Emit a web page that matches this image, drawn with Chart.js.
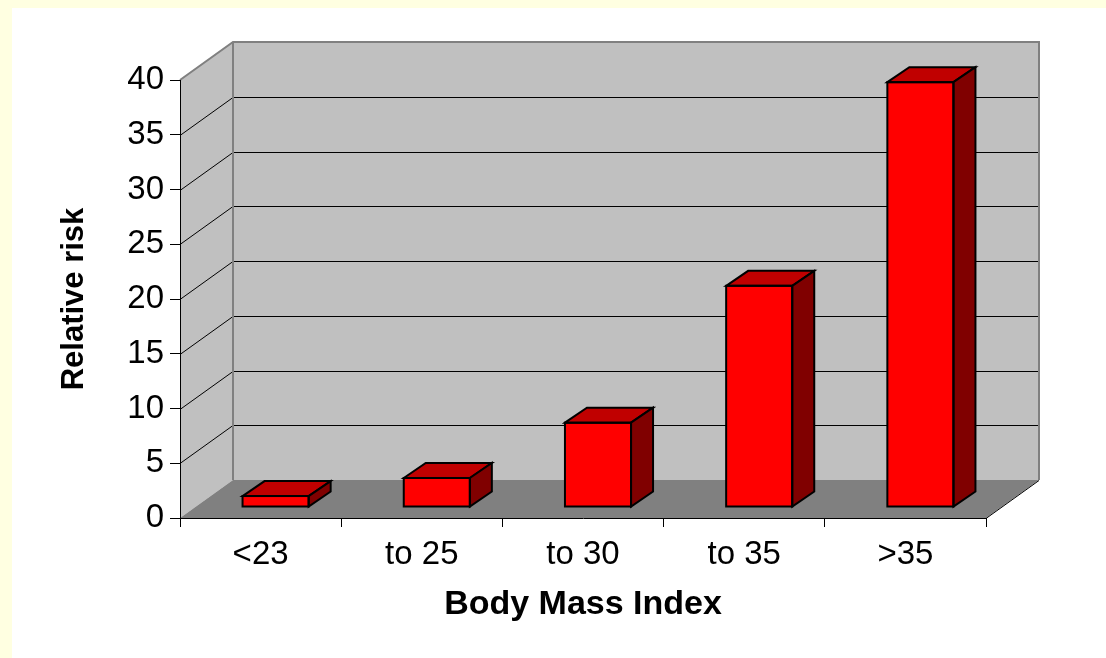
<!DOCTYPE html>
<html>
<head>
<meta charset="utf-8">
<script src="https://cdn.jsdelivr.net/npm/chart.js@4"></script>
<style>
  html, body { margin: 0; padding: 0; background: #FFFFE1; }
  #frame { position: absolute; left: 12px; top: 8px; width: 1094px; height: 650px; background: #FFFFFF; }
  canvas { display: block; }
</style>
</head>
<body>
<div id="frame"><canvas id="chart" width="1094" height="650"></canvas></div>
<script>
// data
const categories = ['<23', 'to 25', 'to 30', 'to 35', '>35'];
const relativeRisk = [1.0, 2.65, 7.7, 20.2, 38.8];
const yTicks = { min: 0, max: 40, step: 5 };

// 3D look (pixels)
const WALL_DX = 53, WALL_DY = -38;   // depth of the back wall
const BAR_DX = 15, BAR_DY = -11;     // where the bar fronts sit
const BOX_DX = 22, BOX_DY = -15;     // depth of each bar

const FONT = '"Liberation Sans", Arial, sans-serif';

// walls, floor and gridlines
const wallsPlugin = {
  id: 'walls',
  beforeDraw(chart) {
    const { ctx, chartArea: a, scales: { y } } = chart;
    const L = a.left, R = a.right, T = a.top, B = a.bottom;
    ctx.save();

    // side wall
    ctx.fillStyle = '#C0C0C0';
    ctx.beginPath();
    ctx.moveTo(L, T);
    ctx.lineTo(L + WALL_DX, T + WALL_DY);
    ctx.lineTo(L + WALL_DX, B + WALL_DY);
    ctx.lineTo(L, B);
    ctx.closePath();
    ctx.fill();

    // back wall
    ctx.fillRect(L + WALL_DX, T + WALL_DY, R - L, B - T);

    // floor
    ctx.fillStyle = '#808080';
    ctx.beginPath();
    ctx.moveTo(L, B);
    ctx.lineTo(L + WALL_DX, B + WALL_DY);
    ctx.lineTo(R + WALL_DX, B + WALL_DY);
    ctx.lineTo(R, B);
    ctx.closePath();
    ctx.fill();

    // gridlines
    ctx.strokeStyle = '#000';
    ctx.lineWidth = 1;
    y.ticks.forEach(t => {
      if (t.value === yTicks.min || t.value === yTicks.max) return;
      const py = Math.round(y.getPixelForValue(t.value)) + 0.5;
      ctx.beginPath();
      ctx.moveTo(L, py);
      ctx.lineTo(L + WALL_DX, py + WALL_DY);
      ctx.lineTo(R + WALL_DX, py + WALL_DY);
      ctx.stroke();
    });

    // wall edges
    ctx.strokeStyle = '#808080';
    ctx.lineWidth = 2;
    ctx.beginPath();
    ctx.moveTo(L, T);
    ctx.lineTo(L + WALL_DX, T + WALL_DY);
    ctx.lineTo(R + WALL_DX, T + WALL_DY);
    ctx.lineTo(R + WALL_DX, B + WALL_DY);
    ctx.moveTo(L + WALL_DX, T + WALL_DY);
    ctx.lineTo(L + WALL_DX, B + WALL_DY);
    ctx.stroke();

    // floor right edge
    ctx.strokeStyle = '#000';
    ctx.lineWidth = 1;
    ctx.beginPath();
    ctx.moveTo(R, B + 0.5);
    ctx.lineTo(R + WALL_DX, B + WALL_DY + 0.5);
    ctx.stroke();

    ctx.restore();
  }
};

// pushes bars back into the box and adds top + side faces
const boxBarsPlugin = {
  id: 'boxBars',
  beforeDatasetsDraw(chart) {
    chart.ctx.save();
    chart.ctx.translate(BAR_DX, BAR_DY);
  },
  afterDatasetsDraw(chart) {
    const ctx = chart.ctx;
    const meta = chart.getDatasetMeta(0);
    ctx.lineWidth = 2;
    ctx.lineJoin = 'miter';
    ctx.strokeStyle = '#000';
    meta.data.forEach(bar => {
      const { x, y, base, width } = bar.getProps(['x', 'y', 'base', 'width'], true);
      const l = x - width / 2, r = x + width / 2;
      // top
      ctx.fillStyle = '#C00000';
      ctx.beginPath();
      ctx.moveTo(l, y);
      ctx.lineTo(l + BOX_DX, y + BOX_DY);
      ctx.lineTo(r + BOX_DX, y + BOX_DY);
      ctx.lineTo(r, y);
      ctx.closePath();
      ctx.fill();
      ctx.stroke();
      // side
      ctx.fillStyle = '#800000';
      ctx.beginPath();
      ctx.moveTo(r, y);
      ctx.lineTo(r + BOX_DX, y + BOX_DY);
      ctx.lineTo(r + BOX_DX, base + BOX_DY);
      ctx.lineTo(r, base);
      ctx.closePath();
      ctx.fill();
      ctx.stroke();
      // front outline
      ctx.strokeRect(l, y, width, base - y);
    });
    ctx.restore();
  }
};

const ctx = document.getElementById('chart').getContext('2d');
new Chart(ctx, {
  type: 'bar',
  data: {
    labels: categories,
    datasets: [{
      data: relativeRisk,
      backgroundColor: '#FF0000',
      borderColor: '#000000',
      borderWidth: 0,
      borderSkipped: false,
      categoryPercentage: 1.0,
      barPercentage: 0.41,
      clip: false
    }]
  },
  options: {
    responsive: false,
    animation: false,
    devicePixelRatio: 1,
    layout: { padding: { left: 0, top: 72, right: 120, bottom: 0 } },
    plugins: {
      legend: { display: false },
      tooltip: { enabled: false }
    },
    scales: {
      x: {
        offset: true,
        grid: { display: true, drawOnChartArea: false, drawTicks: true, tickLength: 9, color: '#000', offset: true },
        border: { display: true, color: '#000', width: 1 },
        ticks: { color: '#000', padding: 8, maxRotation: 0, font: { family: FONT, size: 33 } },
        title: {
          display: true,
          text: 'Body Mass Index',
          color: '#000',
          font: { family: FONT, size: 34, weight: 'bold' },
          padding: { top: 0, bottom: 32.6 }
        },
        afterFit(scale) {
          scale.height = 140;
          scale.paddingLeft = 0;
          scale.paddingRight = 0;
        }
      },
      y: {
        min: yTicks.min,
        max: yTicks.max,
        grid: { display: true, drawOnChartArea: false, drawTicks: true, tickLength: 10, color: '#000' },
        border: { display: true, color: '#000', width: 1 },
        ticks: { stepSize: yTicks.step, color: '#000', padding: 6, font: { family: FONT, size: 33 } },
        title: {
          display: true,
          text: 'Relative risk',
          color: '#000',
          font: { family: FONT, size: 31, weight: 'bold' },
          padding: { top: 44, bottom: 0 }
        },
        afterFit(scale) {
          scale.width = 168;
          scale.paddingTop = 0;
          scale.paddingBottom = 0;
        }
      }
    }
  },
  plugins: [wallsPlugin, boxBarsPlugin]
});
</script>
</body>
</html>
